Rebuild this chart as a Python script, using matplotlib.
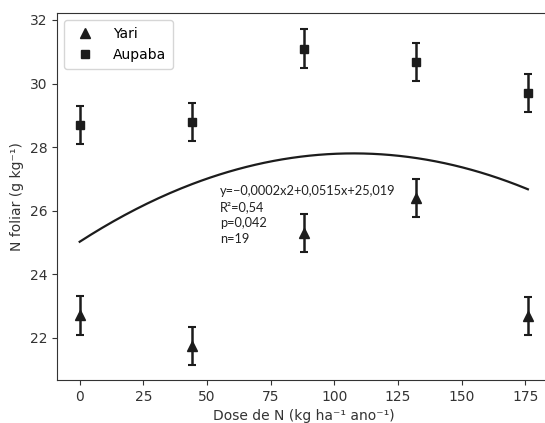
import matplotlib
matplotlib.use("Agg")
import matplotlib.pyplot as plt
from matplotlib.lines import Line2D
import numpy as np

# Data
doses = [0, 44, 88, 132, 176]
yari = [22.7, 21.75, 25.3, 26.4, 22.68]
yari_err = [0.6, 0.6, 0.6, 0.6, 0.6]
aupaba = [28.7, 28.8, 31.1, 30.68, 29.7]
aupaba_err = [0.6, 0.6, 0.6, 0.6, 0.6]
# Fitted curve coefficients (as drawn)
coef_a, coef_b, coef_c = -0.0002406, 0.05173, 25.02
eq_lines = ["y=\u22120,0002x2+0,0515x+25,019", "R\u00b2=0,54", "p=0,042", "n=19"]

fig = plt.figure(figsize=(5.45, 4.23), dpi=100)
ax = fig.add_axes([0.1051, 0.1017, 0.9046, 0.8669])

col = "#1c1c1c"
ax.errorbar(doses, yari, yerr=yari_err, fmt="^", color=col, ecolor=col,
            markersize=7, capsize=3, elinewidth=1.8, capthick=1.5)
ax.errorbar(doses, aupaba, yerr=aupaba_err, fmt="s", color=col, ecolor=col,
            markersize=6, capsize=3, elinewidth=1.8, capthick=1.5)

xs = np.linspace(min(doses), max(doses), 200)
ax.plot(xs, coef_a * xs**2 + coef_b * xs + coef_c, color=col, lw=1.6)

for i, line in enumerate(eq_lines):
    ax.text(55, 26.62 - i * 0.505, line, fontsize=9.2, family=["Lato", "DejaVu Sans"],
            va="center", ha="left", color="#222222")

ax.set_xlim(-8.8, 184.8)
ax.set_ylim(20.67, 32.21)
ax.set_xticks([0, 25, 50, 75, 100, 125, 150, 175])
ax.set_yticks([22, 24, 26, 28, 30, 32])
ax.set_xlabel("Dose de N (kg ha\u207b\u00b9 ano\u207b\u00b9)", fontsize=10, color="#333333", labelpad=4)
ax.set_ylabel("N foliar (g kg\u207b\u00b9)", fontsize=10, color="#333333")
ax.tick_params(colors="#333333", labelsize=10)
for s in ax.spines.values():
    s.set_color("#333333")
ax.spines["right"].set_visible(False)

handles = [Line2D([], [], marker="^", ls="none", color=col, markersize=7),
           Line2D([], [], marker="s", ls="none", color=col, markersize=6)]
leg = ax.legend(handles, ["Yari", "Aupaba"], loc="upper left", fontsize=10,
                borderpad=0.5, handletextpad=1.0)

fig.savefig("out.png", dpi=100)
